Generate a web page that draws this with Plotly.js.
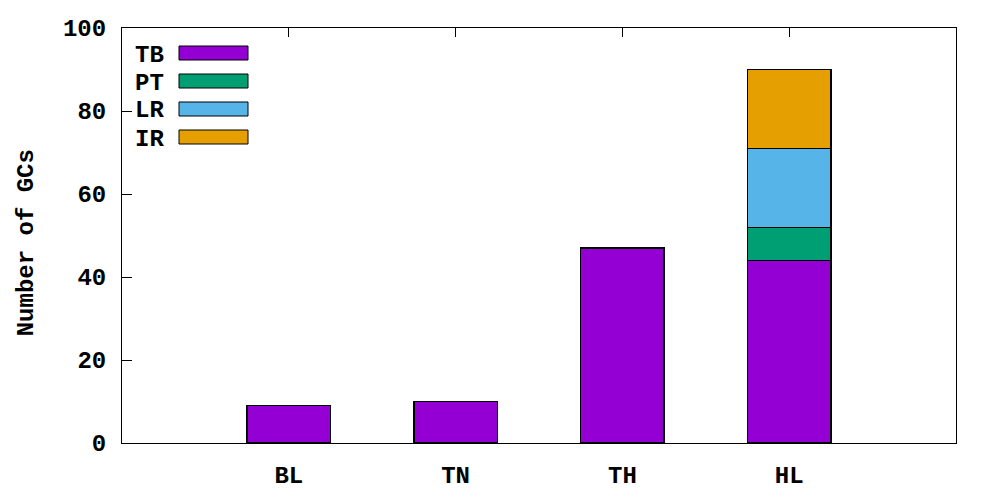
<!DOCTYPE html>
<html>
<head>
<meta charset="utf-8">
<script src="https://cdn.plot.ly/plotly-3.0.1.min.js"></script>
<style>html,body{margin:0;padding:0;background:#fff;}#chart{width:1000px;height:500px;}</style>
</head>
<body>
<div id="chart"></div>
<script>
var categories = ['BL', 'TN', 'TH', 'HL'];
var seriesNames = ['TB', 'PT', 'LR', 'IR'];
var seriesColors = ['#9400d3', '#009e73', '#56b4e9', '#e69f00'];
var TB = [9, 10, 47, 44];
var PT = [null, null, null, 8];
var LR = [null, null, null, 19];
var IR = [null, null, null, 19];
var yTicks = [0, 20, 40, 60, 80, 100];
var yTitle = 'Number of GCs';

var seriesValues = [TB, PT, LR, IR];
var FONT = 'Liberation Mono, DejaVu Sans Mono, monospace';
var FS = 24;

var traces = seriesValues.map(function (vals, i) {
  return {
    type: 'bar',
    name: seriesNames[i],
    x: categories,
    y: vals,
    width: 0.5,
    marker: {color: seriesColors[i], line: {color: '#000', width: 1.3}},
    showlegend: false,
    hoverinfo: 'x+y+name'
  };
});

// gnuplot-style key: text first, then the colour sample
var L = 122, R = 956, T = 28, B = 443;
function px(x) { return (x - L) / (R - L); }
function py(y) { return (B - y) / (B - T); }
var shapes = [], annotations = [];
seriesNames.forEach(function (n, i) {
  var cy = 53 + 28 * i;
  annotations.push({
    xref: 'paper', yref: 'paper', x: px(166), y: py(cy + 2),
    xanchor: 'right', yanchor: 'middle', showarrow: false,
    text: '<b>' + n + '</b>',
    font: {family: FONT, size: FS, color: '#000'}
  });
  shapes.push({
    type: 'rect', xref: 'paper', yref: 'paper',
    x0: px(179), x1: px(248), y0: py(cy - 7), y1: py(cy + 7),
    fillcolor: seriesColors[i], line: {color: '#000', width: 1}
  });
});

var layout = {
  width: 1000, height: 500,
  margin: {l: L, r: 1000 - R, t: T, b: 500 - B, pad: 0},
  paper_bgcolor: '#fff', plot_bgcolor: '#fff',
  barmode: 'stack',
  showlegend: false,
  font: {family: FONT, size: FS, color: '#000'},
  xaxis: {
    type: 'category',
    range: [-1, 4],
    tickmode: 'array', tickvals: categories,
    ticktext: categories.map(function (c) { return '<b>' + c + '</b>'; }),
    ticks: 'inside', ticklen: 9, tickwidth: 1, tickcolor: '#000',
    showline: true, linecolor: '#000', linewidth: 1, mirror: 'ticks',
    showgrid: false, zeroline: false,
    layer: 'below traces',
    ticklabelstandoff: 10,
    tickfont: {family: FONT, size: FS, color: '#000'}
  },
  yaxis: {
    range: [0, 100],
    tickmode: 'array', tickvals: yTicks,
    ticktext: yTicks.map(function (v) { return '<b>' + v + '</b>'; }),
    ticks: 'inside', ticklen: 10, tickwidth: 1, tickcolor: '#000',
    showline: true, linecolor: '#000', linewidth: 1, mirror: true,
    showgrid: false, zeroline: false,
    ticklabelstandoff: 10,
    tickfont: {family: FONT, size: FS, color: '#000'},
    title: {text: '<b>' + yTitle + '&nbsp;</b>', standoff: 22, font: {family: FONT, size: FS, color: '#000'}},
    automargin: false
  },
  shapes: shapes,
  annotations: annotations
};

Plotly.newPlot('chart', traces, layout, {displayModeBar: false, staticPlot: true});
</script>
</body>
</html>
